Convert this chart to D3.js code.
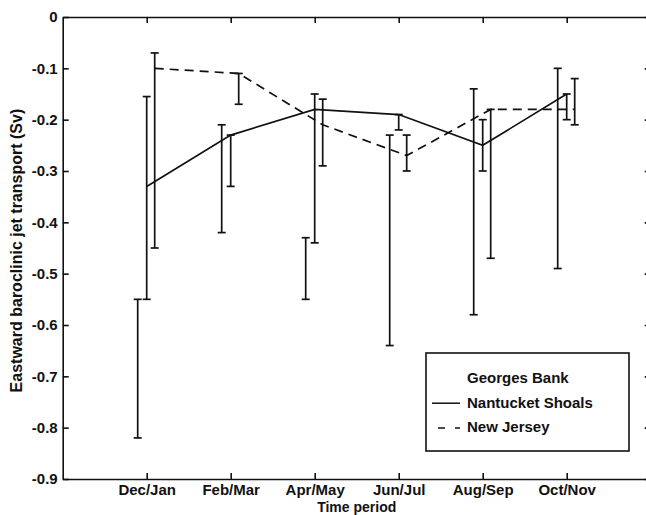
<!DOCTYPE html>
<html lang="en">
<head>
<meta charset="utf-8">
<title>Eastward baroclinic jet transport</title>
<script src="https://d3js.org/d3.v7.min.js"></script>
<style>
	body { margin: 0; background: #fff; }
	svg text { font-family: "Liberation Sans", Arial, Helvetica, sans-serif; font-weight: bold; fill: #111; }
</style>
</head>
<body>
<div id="svgcontainer"></div>
<script type="text/javascript">
	// time periods along the x axis (placed at 1..6)
	var periods = ["Dec/Jan", "Feb/Mar", "Apr/May", "Jun/Jul", "Aug/Sep", "Oct/Nov"];
	var yTicks = [0, -0.1, -0.2, -0.3, -0.4, -0.5, -0.6, -0.7, -0.8, -0.9];

	// Georges Bank: only the error bars show up
	var georgesLow  = [-0.82, -0.42, -0.55, -0.64, -0.58, -0.49];
	var georgesHigh = [-0.55, -0.21, -0.43, -0.23, -0.14, -0.10];
	// Nantucket Shoals (solid)
	var nantucket     = [-0.33, -0.23, -0.18, -0.19, -0.25, -0.15];
	var nantucketLow  = [-0.55, -0.33, -0.44, -0.22, -0.30, -0.20];
	var nantucketHigh = [-0.155, -0.23, -0.15, -0.19, -0.20, -0.15];
	// New Jersey (dashed)
	var newJersey     = [-0.10, -0.11, -0.21, -0.27, -0.18, -0.18];
	var newJerseyLow  = [-0.45, -0.17, -0.29, -0.30, -0.47, -0.21];
	var newJerseyHigh = [-0.07, -0.11, -0.16, -0.23, -0.18, -0.12];

	var legendNames = ["Georges Bank", "Nantucket Shoals", "New Jersey"];

	var w = 646, h = 515;
	var x = d3.scaleLinear().domain([0, 7]).range([62.7, 650.7]);
	var y = d3.scaleLinear().domain([-0.9, 0]).range([479, 17]);
	var tick = 6, capW = 4;

	var svg = d3.select("#svgcontainer")
		.append("svg")
		.attr("width", w)
		.attr("height", h);

	// series: horizontal pixel offset of each group of bars around the tick
	var series = [
		{ name: legendNames[0], dx: -9, low: georgesLow, high: georgesHigh, values: null, dash: null },
		{ name: legendNames[1], dx: 0, low: nantucketLow, high: nantucketHigh, values: nantucket, dash: null },
		{ name: legendNames[2], dx: 8, low: newJerseyLow, high: newJerseyHigh, values: newJersey, dash: "9,6" }
	];

	// error bars
	series.forEach(function(s) {
		var g = svg.append("g").attr("class", "errorbars")
			.attr("stroke", "#111").attr("stroke-width", 1.7).attr("fill", "none");
		var bars = g.selectAll("g.bar")
			.data(periods.map(function(p, i) { return { i: i, lo: s.low[i], hi: s.high[i] }; }))
			.join("g")
			.attr("class", "bar")
			.attr("transform", d => `translate(${x(d.i + 1) + s.dx},0)`);
		bars.append("line").attr("x1", 0).attr("x2", 0)
			.attr("y1", d => y(d.hi)).attr("y2", d => y(d.lo));
		bars.append("line").attr("x1", -capW).attr("x2", capW)
			.attr("y1", d => y(d.hi)).attr("y2", d => y(d.hi));
		bars.append("line").attr("x1", -capW).attr("x2", capW)
			.attr("y1", d => y(d.lo)).attr("y2", d => y(d.lo));
	});

	// mean lines
	series.filter(s => s.values).forEach(function(s) {
		var line = d3.line()
			.x((d, i) => x(i + 1) + s.dx)
			.y(d => y(d));
		svg.append("path")
			.datum(s.values)
			.attr("d", line)
			.attr("fill", "none")
			.attr("stroke", "#111")
			.attr("stroke-width", 1.7)
			.attr("stroke-dasharray", s.dash);
	});

	// axes box, matlab style: ticks pointing in
	var fmt = d => d === 0 ? "0" : d.toFixed(1);
	var xTickVals = periods.map((p, i) => i + 1);
	svg.append("g").attr("transform", `translate(0,${y(-0.9)})`)
		.call(d3.axisBottom(x).tickValues(xTickVals).tickFormat((d, i) => periods[i])
			.tickSizeInner(-tick).tickSizeOuter(0).tickPadding(5));
	svg.append("g").attr("transform", `translate(0,${y(0)})`)
		.call(d3.axisTop(x).tickValues(xTickVals).tickFormat("")
			.tickSizeInner(-tick).tickSizeOuter(0));
	svg.append("g").attr("transform", `translate(${x(0)},0)`)
		.call(d3.axisLeft(y).tickValues(yTicks).tickFormat(fmt)
			.tickSizeInner(-tick).tickSizeOuter(0).tickPadding(5));
	svg.append("g").attr("transform", `translate(${x(7)},0)`)
		.call(d3.axisRight(y).tickValues(yTicks).tickFormat("")
			.tickSizeInner(-tick).tickSizeOuter(0));
	svg.selectAll(".domain, .tick line").attr("stroke", "#111").attr("stroke-width", 1.6);
	svg.selectAll(".tick text").attr("font-size", "15px").attr("fill", "#111");

	// axis titles
	svg.append("text")
		.attr("x", (x(0) + x(7)) / 2)
		.attr("y", 511.5)
		.attr("text-anchor", "middle")
		.attr("font-size", "14px")
		.text("Time period");
	svg.append("text")
		.attr("transform", `translate(22,${y(-0.455)}) rotate(-90)`)
		.attr("text-anchor", "middle")
		.attr("font-size", "16px")
		.text("Eastward baroclinic jet transport (Sv)");

	// legend
	var legend = svg.append("g").attr("class", "legend");
	legend.append("rect")
		.attr("x", 426).attr("y", 353).attr("width", 203).attr("height", 98)
		.attr("fill", "#fff").attr("stroke", "#111").attr("stroke-width", 1.6);
	var items = legend.selectAll("g.item")
		.data(series)
		.join("g")
		.attr("class", "item")
		.attr("transform", (d, i) => `translate(0,${383 + i * 24.7})`);
	items.append("text")
		.attr("x", 467).attr("y", 0)
		.attr("font-size", "15px")
		.text(d => d.name);
	items.filter(d => d.values).append("line")
		.attr("x1", d => d.dash ? 438 : 432).attr("x2", 460)
		.attr("y1", -4.5).attr("y2", -4.5)
		.attr("stroke", "#111").attr("stroke-width", 1.5)
		.attr("stroke-dasharray", d => d.dash ? "7,10" : null);
</script>
</body>
</html>
